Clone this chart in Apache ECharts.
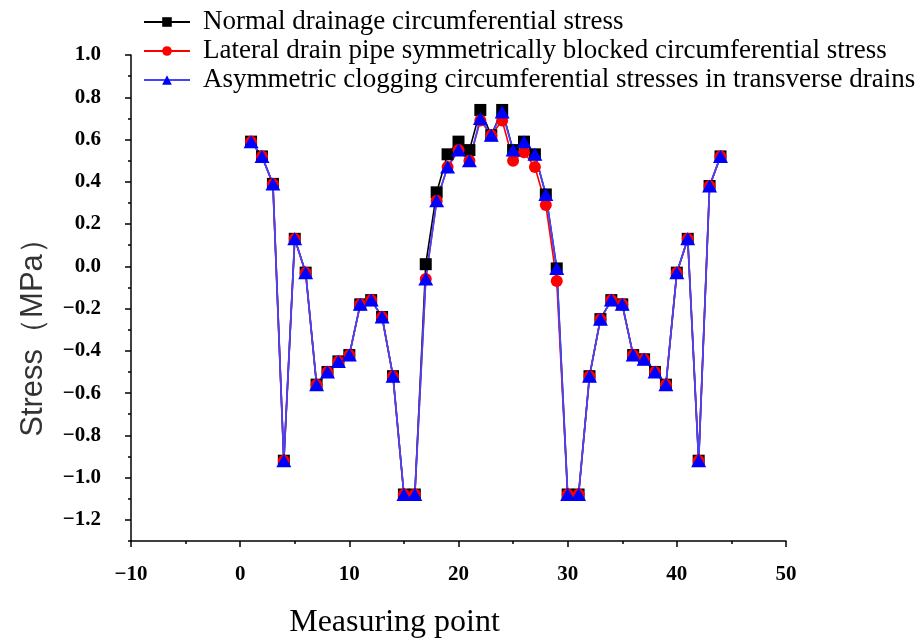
<!DOCTYPE html>
<html>
<head>
<meta charset="utf-8">
<script src="https://cdn.jsdelivr.net/npm/echarts@6/dist/echarts.min.js"></script>
<style>
html,body{margin:0;padding:0;background:#fff;}
#chart{width:921px;height:644px;}
</style>
</head>
<body>
<div id="chart"></div>
<script>
// measuring points 1..44
var points = [];
for (var i = 1; i <= 44; i++) points.push(i);

var normalStress = [
  0.59, 0.52, 0.39, -0.92, 0.13, -0.03, -0.56, -0.50, -0.45, -0.42,
  -0.18, -0.16, -0.24, -0.52, -1.08, -1.08, 0.01, 0.35, 0.53, 0.59,
  0.55, 0.74, 0.62, 0.74, 0.55, 0.59, 0.53, 0.34, -0.01, -1.08,
  -1.08, -0.52, -0.25, -0.16, -0.18, -0.42, -0.44, -0.50, -0.56, -0.03,
  0.13, -0.92, 0.38, 0.52
];
var symBlockedStress = [
  0.59, 0.52, 0.39, -0.92, 0.13, -0.03, -0.56, -0.50, -0.45, -0.42,
  -0.18, -0.16, -0.24, -0.52, -1.08, -1.08, -0.06, 0.31, 0.47, 0.55,
  0.50, 0.69, 0.62, 0.69, 0.50, 0.54, 0.47, 0.29, -0.07, -1.08,
  -1.08, -0.52, -0.25, -0.16, -0.18, -0.42, -0.44, -0.50, -0.56, -0.03,
  0.13, -0.92, 0.38, 0.52
];
var asymCloggingStress = [
  0.59, 0.52, 0.39, -0.92, 0.13, -0.03, -0.56, -0.50, -0.45, -0.42,
  -0.18, -0.16, -0.24, -0.52, -1.08, -1.08, -0.06, 0.31, 0.47, 0.55,
  0.50, 0.70, 0.62, 0.73, 0.55, 0.59, 0.53, 0.34, -0.01, -1.08,
  -1.08, -0.52, -0.25, -0.16, -0.18, -0.42, -0.44, -0.50, -0.56, -0.03,
  0.13, -0.92, 0.38, 0.52
];

var seriesNames = [
  "Normal drainage circumferential stress",
  "Lateral drain pipe symmetrically blocked circumferential stress",
  "Asymmetric clogging circumferential stresses in transverse drains"
];

var yMajorTicks = [-1.2, -1.0, -0.8, -0.6, -0.4, -0.2, 0.0, 0.2, 0.4, 0.6, 0.8, 1.0];
var yMinorTicks = [-1.3, -1.1, -0.9, -0.7, -0.5, -0.3, -0.1, 0.1, 0.3, 0.5, 0.7, 0.9];

function pairs(vals){
  return points.map(function(x, i){ return [x, vals[i]]; });
}
function minus(s){ return String(s).replace('-', '\u2212'); }

var chart = echarts.init(document.getElementById("chart"));

var labelFont = {
  fontFamily: "Liberation Serif",
  fontWeight: "bold",
  fontSize: 21,
  color: "#000"
};

var option = {
  animation: false,
  grid: { left: 131, right: 135, top: 55, bottom: 101 },
  legend: {
    orient: "vertical",
    left: 138,
    top: 3,
    itemWidth: 46,
    itemHeight: 12,
    itemGap: 1,
    selectedMode: false,
    textStyle: { fontFamily: "Liberation Serif", fontSize: 27, color: "#000", lineHeight: 28, padding: [0, 0, 0, 8] },
    data: seriesNames
  },
  xAxis: {
    type: "value",
    min: -10,
    max: 50,
    interval: 10,
    name: "Measuring point",
    nameLocation: "middle",
    nameGap: 66,
    nameTextStyle: { fontFamily: "Liberation Serif", fontSize: 32, color: "#000", padding: [0, 128, 0, 0] },
    axisLine: { onZero: false, lineStyle: { color: "#000", width: 1.5 } },
    axisTick: { length: 6, lineStyle: { color: "#000", width: 1.5 } },
    minorTick: { show: true, splitNumber: 2, length: 3, lineStyle: { color: "#000", width: 1.5 } },
    axisLabel: Object.assign({ margin: 23, formatter: minus }, labelFont),
    splitLine: { show: false }
  },
  yAxis: [
    {
      type: "value",
      min: -1.3,
      max: 1.0,
      name: "Stress\uFF08MPa\uFF09",
      nameLocation: "middle",
      nameGap: 82,
      nameTextStyle: { fontFamily: "Liberation Sans", fontSize: 31, color: "#333", padding: [0, 64, 0, 0] },
      axisLine: { show: true, onZero: false, lineStyle: { color: "#000", width: 1.5 } },
      axisTick: { show: true, length: 6, customValues: yMajorTicks, lineStyle: { color: "#000", width: 1.5 } },
      axisLabel: Object.assign({
        margin: 30,
        customValues: yMajorTicks,
        formatter: function(v){ return minus(v.toFixed(1)); }
      }, labelFont),
      splitLine: { show: false }
    },
    {
      type: "value",
      min: -1.3,
      max: 1.0,
      position: "left",
      axisLine: { show: false, onZero: false },
      axisTick: { show: true, length: 3, customValues: yMinorTicks, lineStyle: { color: "#000", width: 1.5 } },
      axisLabel: { show: false },
      splitLine: { show: false }
    }
  ],
  series: [
    {
      name: seriesNames[0],
      type: "line",
      data: pairs(normalStress),
      symbol: "rect",
      symbolSize: 12,
      itemStyle: { color: "#000" },
      lineStyle: { color: "#000", width: 1.6 }
    },
    {
      name: seriesNames[1],
      type: "line",
      data: pairs(symBlockedStress),
      symbol: "circle",
      symbolSize: 12,
      itemStyle: { color: "#ff0000" },
      lineStyle: { color: "#ff0000", width: 1.6 }
    },
    {
      name: seriesNames[2],
      type: "line",
      data: pairs(asymCloggingStress),
      symbol: "triangle",
      symbolSize: [15, 13],
      itemStyle: { color: "#0000ff" },
      lineStyle: { color: "#4444ff", width: 1.8 }
    }
  ]
};

chart.setOption(option);
</script>
</body>
</html>
